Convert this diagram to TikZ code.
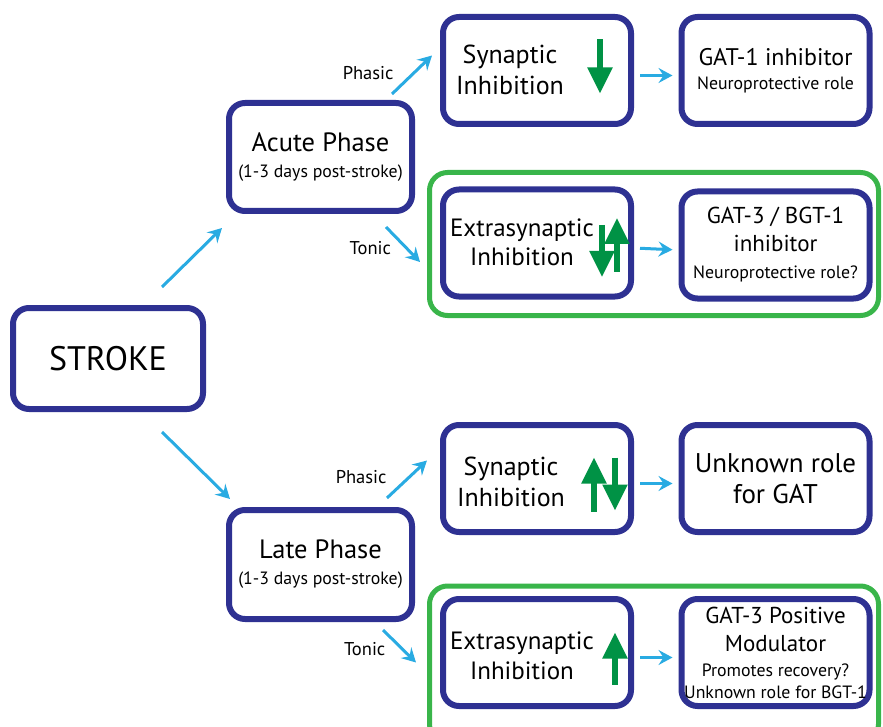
\documentclass[tikz,border=0pt]{standalone}
\usepackage{fontspec}
\setmainfont{PT Sans}
\usetikzlibrary{arrows.meta, calc, positioning}

\definecolor{boxnavy}{RGB}{46,49,146}
\definecolor{grpgreen}{RGB}{57,181,74}
\definecolor{gabagreen}{RGB}{0,146,69}
\definecolor{flowblue}{RGB}{41,171,226}

\tikzset{
  box/.style={draw=boxnavy, line width=6pt, rounded corners=16pt, fill=white,
              align=center, inner sep=0pt},
  wide/.style={box, minimum width=188pt, minimum height=107pt},
  group/.style={draw=grpgreen, line width=5pt, rounded corners=18pt},
  flow/.style={draw=flowblue, line width=3pt,
               -{Stealth[length=14pt,width=15pt,inset=5pt]}},
  gaba/.style={draw=gabagreen, line width=5.5pt,
               -{Triangle[length=26pt,width=24pt]}},
  big/.style={align=center, inner sep=0pt, font=\fontsize{26}{31}\selectfont},
  lbl/.style={inner sep=0pt, font=\fontsize{18.5}{20}\selectfont}
}
\newcommand{\smalltxt}[1]{{\fontsize{17.8}{19}\selectfont #1}}

\begin{document}
\begin{tikzpicture}[x=1pt, y=-1pt]
\useasboundingbox (0,0) rectangle (883,727);

% tonic groups
\node[group, minimum width=449pt, minimum height=143pt] (tonicA) at (654,244) {};
\node[group, minimum width=449pt, minimum height=156pt] (tonicL) at (654,664) {};

% stroke and phases
\node[box, minimum width=190pt, minimum height=101pt,
      font=\fontsize{34}{40}\selectfont] (stroke) at (108,358.5) {STROKE};
\node[box, minimum width=183pt, minimum height=108pt,
      font=\fontsize{26.5}{26}\selectfont] (acute) at (320.5,157)
      {Acute Phase\\\smalltxt{(1-3 days post-stroke)}};
\node[box, minimum width=183pt, minimum height=109pt,
      font=\fontsize{26.5}{26}\selectfont] (late) at (320.5,564.5)
      {Late Phase\\\smalltxt{(1-3 days post-stroke)}};

% inhibition boxes
\node[wide] (synA) at (537,70.5) {};
\node[big] (synA-t) at ($(synA)+(-27,-1)$) {Synaptic\\Inhibition};
\node[wide] (extA) at (537,243) {};
\node[big, font=\fontsize{25}{29}\selectfont] (extA-t) at ($(extA)+(-15,-1)$) {Extrasynaptic\\Inhibition};
\node[wide] (synL) at (537,478.5) {};
\node[big] (synL-t) at ($(synL)+(-26,3)$) {Synaptic\\Inhibition};
\node[wide] (extL) at (537,652.5) {};
\node[big, font=\fontsize{25}{30}\selectfont] (extL-t) at ($(extL)+(-15,3)$) {Extrasynaptic\\Inhibition};

% transporter boxes
\node[wide, font=\fontsize{24}{24}\selectfont] (gatA) at (775.5,70.5)
      {GAT-1 inhibitor\\\smalltxt{Neuroprotective role}};
\node[wide, font=\fontsize{23}{27.5}\selectfont] (bgtA) at (775.5,245)
      {GAT-3 / BGT-1\\inhibitor\\\smalltxt{Neuroprotective role?}};
\node[wide, font=\fontsize{27}{31}\selectfont] (gatL) at (775.5,478.5)
      {Unknown role\\for GAT};
\node[wide, font=\fontsize{23}{22}\selectfont] (posL) at (775.5,652.5)
      {GAT-3 Positive\\[6pt]Modulator\\[3pt]\smalltxt{Promotes recovery?}\\\smalltxt{Unknown role for BGT-1}};

% up / down changes
\draw[gaba] ($(synA.east)+(-34,-31)$) -- ($(synA.east)+(-34,23)$);
\draw[gaba] ($(extA.east)+(-32,-18)$) -- ($(extA.east)+(-32,34)$);
\draw[gaba] ($(extA.east)+(-17,29)$) -- ($(extA.east)+(-17,-25)$);
\draw[gaba] ($(synL.east)+(-40,33)$) -- ($(synL.east)+(-40,-21)$);
\draw[gaba] ($(synL.east)+(-19,-21)$) -- ($(synL.east)+(-19,32)$);
\draw[gaba] ($(extL.east)+(-19,32)$) -- ($(extL.east)+(-19,-20)$);

% pathways
\draw[flow] ($(stroke.north)+(54,-18)$) -- ($(acute.south west)+(-4,14)$);
\draw[flow] ($(stroke.south)+(54,20)$) -- ($(late.north west)+(4,-8)$);
\draw[flow] ($(acute.north east)+(-23,-6)$) -- ($(synA.west)+(-8,-15)$)
      node[lbl, midway, left=17pt, yshift=2pt] (phA) {Phasic};
\draw[flow] ($(acute.south east)+(-29,13)$) -- ($(extA.west)+(-20,19)$)
      node[lbl, pos=0.6, left=14pt] (toA) {Tonic};
\draw[flow] ($(late.north east)+(-28,-9)$) -- ($(synL.west)+(-13,-18)$)
      node[lbl, midway, left=19pt, yshift=2pt] (phL) {Phasic};
\draw[flow] ($(late.south east)+(-32,8)$) -- ($(extL.west)+(-24,10)$)
      node[lbl, pos=0.6, left=16pt] (toL) {Tonic};

\draw[flow, shorten <=6pt, shorten >=6pt] ([yshift=-5pt]synA.east) -- ([yshift=-5pt]gatA.west);
\draw[flow, shorten <=6pt, shorten >=6pt] ([yshift=-5pt]extA.east) -- ([yshift=-5pt]bgtA.west);
\draw[flow, shorten <=6pt, shorten >=6pt] ([yshift=-5pt]synL.east) -- ([yshift=-5pt]gatL.west);
\draw[flow, shorten <=6pt, shorten >=6pt] ([yshift=-5pt]extL.east) -- ([yshift=-5pt]posL.west);
\end{tikzpicture}
\end{document}
